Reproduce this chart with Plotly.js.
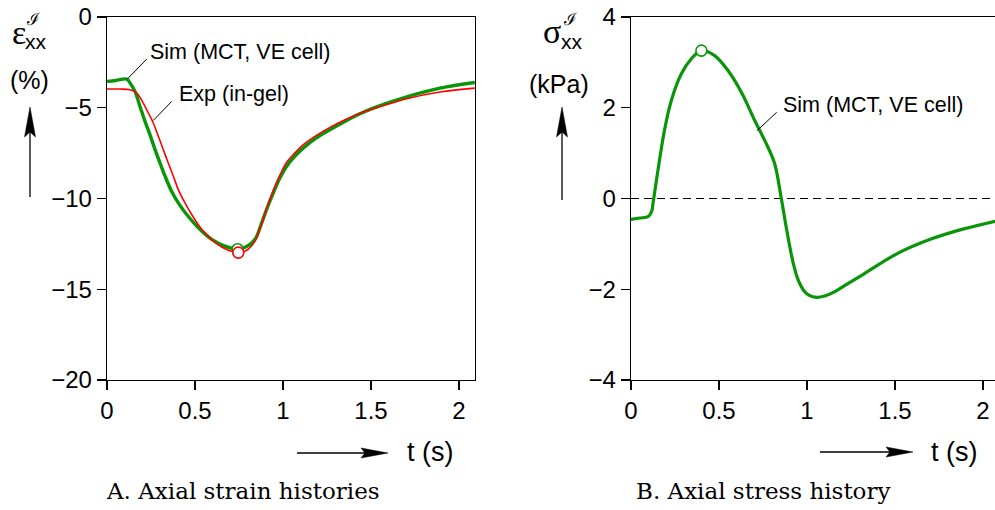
<!DOCTYPE html>
<html>
<head>
<meta charset="utf-8">
<script src="https://cdn.plot.ly/plotly-3.0.1.min.js"></script>
<style>html,body{margin:0;padding:0;background:#fff;}</style>
</head>
<body>
<div id="chart" style="width:995px;height:510px;"></div>
<script>
// Panel A: axial strain histories (%) against time (s)
const tSimA = [0, 0.05, 0.112, 0.135, 0.159, 0.1875, 0.216, 0.244, 0.273, 0.301, 0.330, 0.367, 0.405, 0.453, 0.519, 0.595, 0.670, 0.742, 0.794, 0.841, 0.879, 0.907, 0.945, 0.983, 1.021, 1.059, 1.116, 1.19, 1.267, 1.362, 1.4375, 1.513, 1.703, 1.892, 2.09];
const strainSim = [-3.55, -3.50, -3.42, -3.70, -4.10, -4.93, -5.75, -6.48, -7.31, -8.04, -8.77, -9.60, -10.24, -10.88, -11.61, -12.25, -12.62, -12.80, -12.65, -12.25, -11.34, -10.60, -9.69, -8.86, -8.22, -7.76, -7.21, -6.66, -6.21, -5.70, -5.33, -5.02, -4.40, -3.92, -3.61];

const tExpA = [0, 0.07, 0.131, 0.169, 0.206, 0.235, 0.263, 0.292, 0.320, 0.348, 0.377, 0.405, 0.443, 0.481, 0.538, 0.614, 0.689, 0.746, 0.794, 0.841, 0.879, 0.907, 0.945, 0.983, 1.021, 1.059, 1.116, 1.19, 1.267, 1.362, 1.4375, 1.513, 1.703, 1.892, 2.09];
const strainExp = [-3.97, -3.97, -4.01, -4.19, -4.74, -5.29, -5.84, -6.58, -7.31, -8.04, -8.77, -9.51, -10.24, -10.88, -11.70, -12.43, -12.85, -12.98, -12.85, -12.35, -11.40, -10.55, -9.55, -8.70, -8.00, -7.58, -7.03, -6.52, -6.08, -5.62, -5.30, -5.06, -4.50, -4.13, -3.92];

// Panel B: axial stress history (kPa) against time (s)
const tSimB = [0, 0.05, 0.097, 0.117, 0.125, 0.153, 0.19, 0.229, 0.286, 0.343, 0.40, 0.475, 0.551, 0.627, 0.703, 0.778, 0.816, 0.854, 0.885, 0.922, 0.95, 0.98, 1.01, 1.055, 1.10, 1.15, 1.23, 1.32, 1.51, 1.70, 1.89, 2.07];
const stressSim = [-0.46, -0.43, -0.40, -0.29, -0.11, 0.62, 1.50, 2.16, 2.75, 3.08, 3.26, 3.15, 2.82, 2.34, 1.72, 1.13, 0.77, 0.0, -0.70, -1.43, -1.80, -2.02, -2.13, -2.18, -2.15, -2.07, -1.88, -1.67, -1.22, -0.90, -0.67, -0.50];

const timeTicks = [0, 0.5, 1, 1.5, 2];
const strainTicks = [0, -5, -10, -15, -20];
const stressTicks = [4, 2, 0, -2, -4];
const seriesLabels = ['Sim (MCT, VE cell)', 'Exp (in-gel)'];
const captions = ['A. Axial strain histories', 'B. Axial stress history'];

// ---- layout helpers (page pixels -> paper fractions, margins are zero)
const W = 995, H = 510;
const px = x => x / W;
const py = y => 1 - y / H;

const GREEN = 'rgb(8,150,8)';
const RED = 'rgb(255,0,0)';
const SANS = 'Liberation Sans, Arial, Helvetica, sans-serif';
const SERIF = 'DejaVu Serif, serif';

function argExtreme(arr, cmp) {
  let k = 0;
  for (let i = 1; i < arr.length; i++) if (cmp(arr[i], arr[k])) k = i;
  return k;
}
const iSimMin = argExtreme(strainSim, (a, b) => a < b);
const iExpMin = argExtreme(strainExp, (a, b) => a < b);
const iStressMax = argExtreme(stressSim, (a, b) => a > b);

const circle = c => ({size: 11, color: '#fff', line: {color: c, width: 1.6}});

const traces = [
  {x: tSimA, y: strainSim, xaxis: 'x', yaxis: 'y', mode: 'lines',
   line: {color: GREEN, width: 3.4, shape: 'spline', smoothing: 1}, hoverinfo: 'skip'},
  {x: tExpA, y: strainExp, xaxis: 'x', yaxis: 'y', mode: 'lines',
   line: {color: RED, width: 1.6, shape: 'spline', smoothing: 1}, hoverinfo: 'skip'},
  {x: [tSimA[iSimMin]], y: [strainSim[iSimMin]], xaxis: 'x', yaxis: 'y', mode: 'markers',
   marker: circle(GREEN), hoverinfo: 'skip'},
  {x: [tExpA[iExpMin]], y: [strainExp[iExpMin]], xaxis: 'x', yaxis: 'y', mode: 'markers',
   marker: circle(RED), hoverinfo: 'skip'},
  {x: tSimB, y: stressSim, xaxis: 'x2', yaxis: 'y2', mode: 'lines',
   line: {color: GREEN, width: 3.2, shape: 'spline', smoothing: 1}, hoverinfo: 'skip'},
  {x: [tSimB[iStressMax]], y: [stressSim[iStressMax]], xaxis: 'x2', yaxis: 'y2', mode: 'markers',
   marker: circle(GREEN), hoverinfo: 'skip'}
];

const axisBase = {
  showline: true, linecolor: '#000', linewidth: 1.3,
  ticks: 'outside', ticklen: 9, tickwidth: 1.3, tickcolor: '#000',
  showgrid: false, zeroline: false, fixedrange: true,
  tickfont: {family: SANS, size: 24, color: '#000'}
};
const yDomain = [py(380), py(17)];

// arrow helpers in page pixels
function vArrow(x, yTip, yTail) {
  const L = 30, hw = 5.5, notch = 5;
  return [
    {type: 'line', xref: 'paper', yref: 'paper', x0: px(x), x1: px(x), y0: py(yTail), y1: py(yTip + L - notch),
     line: {color: '#000', width: 1.3}},
    {type: 'path', xref: 'paper', yref: 'paper', fillcolor: '#000', line: {color: '#000', width: 0.5},
     path: `M ${px(x)} ${py(yTip)} L ${px(x - hw)} ${py(yTip + L)} L ${px(x)} ${py(yTip + L - notch)} L ${px(x + hw)} ${py(yTip + L)} Z`}
  ];
}
function hArrow(xTail, xTip, y) {
  const L = 27, hw = 5, notch = 4;
  return [
    {type: 'line', xref: 'paper', yref: 'paper', x0: px(xTail), x1: px(xTip - L + notch), y0: py(y), y1: py(y),
     line: {color: '#000', width: 1.3}},
    {type: 'path', xref: 'paper', yref: 'paper', fillcolor: '#000', line: {color: '#000', width: 0.5},
     path: `M ${px(xTip)} ${py(y)} L ${px(xTip - L)} ${py(y - hw)} L ${px(xTip - L + notch)} ${py(y)} L ${px(xTip - L)} ${py(y + hw)} Z`}
  ];
}
const leader = (xr, yr, x0, y0, x1, y1) => ({type: 'line', xref: xr, yref: yr, x0, y0, x1, y1,
  line: {color: '#000', width: 1}});

const shapes = [
  {type: 'line', xref: 'x2', yref: 'y2', x0: 0, x1: 2.068, y0: 0, y1: 0,
   line: {color: '#000', width: 1.2, dash: '8px,5px'}, layer: 'below'},
  leader('x', 'y', 0.1153, -3.42, 0.2256, -2.32),
  leader('x', 'y', 0.263, -5.70, 0.3676, -4.65),
  leader('x2', 'y2', 0.7176, 1.50, 0.8278, 1.90),
  ...vArrow(30, 107, 197),
  ...vArrow(562, 107, 200),
  ...hArrow(297, 388, 453),
  ...hArrow(820, 913, 452)
];

const txt = (text, x, y, size, opts = {}) => Object.assign({
  text, x: px(x), y: py(y), xref: 'paper', yref: 'paper', showarrow: false,
  xanchor: 'center', yanchor: 'middle', font: {family: SANS, size, color: '#000'}
}, opts);

const annotations = [
  txt(seriesLabels[0], 148, 52.5, 21.5, {xanchor: 'left'}),
  txt(seriesLabels[1], 177, 93.5, 21.5, {xanchor: 'left'}),
  txt(seriesLabels[0], 781, 105, 21.5, {xanchor: 'left'}),
  txt('t (s)', 430, 452, 27),
  txt('t (s)', 954, 452, 27),
  txt('(%)', 29.5, 80, 25),
  txt('(kPa)', 558.5, 84, 25),
  txt('ε', 18.5, 33, 34, {font: {family: 'Liberation Serif, serif', size: 34, color: '#000'}}),
  txt('ℐ', 33, 19, 17, {font: {family: 'DejaVu Serif, serif', size: 17, color: '#000'}}),
  txt('xx', 36, 41.5, 21),
  txt('σ', 551.5, 31, 34, {font: {family: 'Liberation Serif, serif', size: 34, color: '#000'}}),
  txt('ℐ', 570, 19, 17, {font: {family: 'DejaVu Serif, serif', size: 17, color: '#000'}}),
  txt('xx', 572, 41.5, 21),
  txt(captions[0], 242.5, 491, 23, {font: {family: SERIF, size: 23, color: '#000'}}),
  txt(captions[1], 763, 491, 23, {font: {family: SERIF, size: 23, color: '#000'}})
];

const layout = {
  width: W, height: H,
  margin: {l: 0, r: 0, t: 0, b: 0, pad: 0},
  paper_bgcolor: '#fff', plot_bgcolor: '#fff',
  showlegend: false,
  xaxis: Object.assign({}, axisBase, {domain: [px(107), px(475)], range: [0, 2.091], anchor: 'y',
    tickvals: timeTicks, mirror: true}),
  yaxis: Object.assign({}, axisBase, {domain: yDomain, range: [-20, 0], anchor: 'x',
    tickvals: strainTicks, mirror: true}),
  xaxis2: Object.assign({}, axisBase, {domain: [px(631), 1], range: [0, 2.068], anchor: 'y2',
    tickvals: timeTicks, mirror: true}),
  yaxis2: Object.assign({}, axisBase, {domain: yDomain, range: [-4, 4], anchor: 'x2',
    tickvals: stressTicks}),
  shapes, annotations
};

Plotly.newPlot('chart', traces, layout, {staticPlot: true, displayModeBar: false});
</script>
</body>
</html>
